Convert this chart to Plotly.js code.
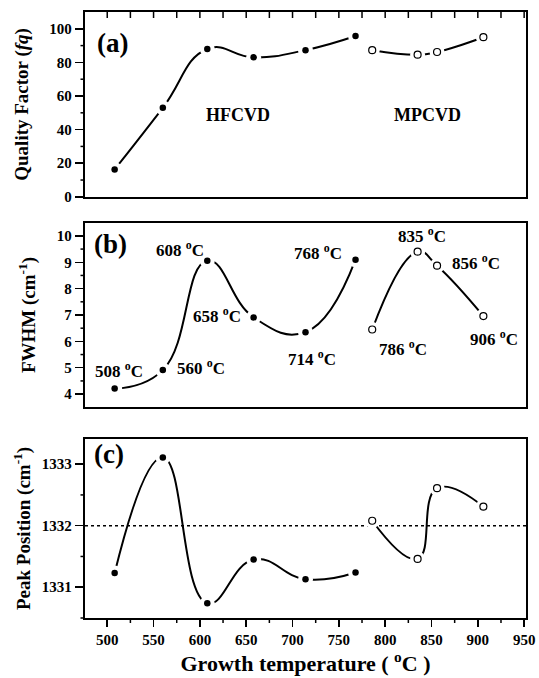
<!DOCTYPE html>
<html>
<head>
<meta charset="utf-8">
<script src="https://cdn.plot.ly/plotly-3.0.1.min.js"></script>
<style>html,body{margin:0;padding:0;background:#fff;}#chart{width:539px;height:678px;}</style>
</head>
<body>
<div id="chart"></div>
<script>
// ---- data ----
const tempsHF = [508, 560, 608, 658, 714, 768];
const tempsMP = [786, 835, 856, 906];
const qualityHF = [16.3, 53, 88, 83, 87.3, 95.7];
const qualityMP = [87.3, 84.6, 86.2, 95];
const fwhmHF = [4.21, 4.91, 9.06, 6.91, 6.35, 9.1];
const fwhmMP = [6.45, 9.4, 8.87, 6.96];
const peakHF = [1331.23, 1333.11, 1330.74, 1331.45, 1331.13, 1331.24];
const peakMP = [1332.08, 1331.46, 1332.61, 1332.31];
const diamondRef = 1332;
const groupLabels = ['HFCVD', 'MPCVD'];
// tick positions
const xTopTicks = [500, 525, 550, 575, 600, 625, 650, 675, 700, 725, 750, 775, 800, 825, 850, 875, 900, 925, 950];
const xMinorTicks = [525, 575, 625, 675, 725, 775, 825, 875, 925];
const yMinorA = [10, 30, 50, 70, 90];
const yMinorB = [4.5, 5.5, 6.5, 7.5, 8.5, 9.5];
const yMinorC = [1330.5, 1331.5, 1332.5];
// label anchor positions (x,y) in panel (b) for each temperature
const tempLabelX = [513, 601, 578, 619, 721, 728, 819, 840, 898, 917];
const tempLabelY = [4.91, 5.01, 9.52, 6.99, 5.36, 9.39, 5.75, 10.04, 9.0, 6.14];

const FONT = 'Liberation Serif, Times New Roman, serif';
const traces = [];
function addSeries(x, y, xa, ya, open) {
  traces.push({x: x, y: y, xaxis: xa, yaxis: ya, mode: 'lines', type: 'scatter',
    line: {shape: 'spline', smoothing: 1.3, color: '#000', width: 2}, hoverinfo: 'skip'});
  traces.push({x: x, y: y, xaxis: xa, yaxis: ya, mode: 'markers', type: 'scatter',
    marker: {symbol: 'circle', size: 15, color: '#fff', line: {width: 0}}, hoverinfo: 'skip'});
  traces.push({x: x, y: y, xaxis: xa, yaxis: ya, mode: 'markers', type: 'scatter',
    marker: open ? {symbol: 'circle-open', size: 7, color: '#000', line: {width: 1.2, color: '#000'}}
                 : {symbol: 'circle', size: 6.5, color: '#000', line: {width: 0}}, hoverinfo: 'skip'});
}
addSeries(tempsHF, qualityHF, 'x', 'y', false);
addSeries(tempsMP, qualityMP, 'x', 'y', true);
addSeries(tempsHF, fwhmHF, 'x2', 'y2', false);
addSeries(tempsMP, fwhmMP, 'x2', 'y2', true);
addSeries(tempsHF, peakHF, 'x3', 'y3', false);
addSeries(tempsMP, peakMP, 'x3', 'y3', true);

const tickFont = {family: FONT, size: 15, color: '#000'};
const titleFont = {family: FONT, size: 19, color: '#000'};
const xrange = [476, 952];
const domA = [0.695, 1], domB = [0.3477, 0.6523], domC = [0, 0.2955];
const rangeA = [0, 110], rangeB = [3.5, 10.5], rangeC = [1330.5, 1333.41];
function xAxis(extra) {
  return Object.assign({range: xrange, showgrid: false, zeroline: false, showline: true,
    linecolor: '#000', linewidth: 2.2, mirror: true, tickmode: 'linear', tick0: 500, dtick: 50,
    tickprefix: '<b>', ticksuffix: '</b>', tickfont: tickFont, tickcolor: '#000', tickwidth: 1.5, ticklen: 7}, extra);
}
function yAxis(t0, major, extra) {
  return Object.assign({showgrid: false, zeroline: false, showline: true, linecolor: '#000',
    linewidth: 2.2, mirror: true, ticks: 'outside', ticklen: 8, tickwidth: 1.5, tickcolor: '#000',
    tickmode: 'linear', tick0: t0, dtick: major, tickprefix: '<b>', ticksuffix: '</b>', tickfont: tickFont}, extra);
}

// secondary tick marks (top inside ticks of panel a, minor ticks) as paper-referenced shapes
const tickLine = {color: '#000', width: 1.5};
const shapes = [];
const plotW = 539 - 85 - 13, plotH = 678 - 12 - 60;
const fx = v => (v - xrange[0]) / (xrange[1] - xrange[0]);
const fy = (v, dom, r) => dom[0] + (v - r[0]) / (r[1] - r[0]) * (dom[1] - dom[0]);
xTopTicks.forEach(v => shapes.push({type: 'line', xref: 'paper', yref: 'paper',
  x0: fx(v), x1: fx(v), y0: 1, y1: 1 - 6 / plotH, line: tickLine}));
xMinorTicks.forEach(v => shapes.push({type: 'line', xref: 'paper', yref: 'paper',
  x0: fx(v), x1: fx(v), y0: 0, y1: -5 / plotH, line: tickLine}));
[[yMinorA, domA, rangeA], [yMinorB, domB, rangeB], [yMinorC, domC, rangeC]].forEach(([vals, dom, r]) => {
  vals.forEach(v => shapes.push({type: 'line', xref: 'paper', yref: 'paper',
    x0: 0, x1: -4.5 / plotW, y0: fy(v, dom, r), y1: fy(v, dom, r), line: tickLine}));
});
shapes.push({type: 'line', xref: 'x3 domain', yref: 'y3', x0: 0, x1: 1, y0: diamondRef, y1: diamondRef,
  line: {color: '#000', width: 1.5, dash: 'dot'}, layer: 'below'});

const allTemps = tempsHF.concat(tempsMP);
const annotations = allTemps.map((t, i) => ({
  x: tempLabelX[i], y: tempLabelY[i], xref: 'x2', yref: 'y2', text: '<b>' + t + ' <sup>o</sup>C</b>',
  showarrow: false, xanchor: 'center', yanchor: 'middle',
  font: {family: FONT, size: 17, color: '#000'}
}));
const big = {family: FONT, size: 27, color: '#000'};
const mid = {family: FONT, size: 18, color: '#000'};
annotations.push(
  {x: 641, y: 48.7, xref: 'x', yref: 'y', text: '<b>' + groupLabels[0] + '</b>', showarrow: false, font: mid},
  {x: 846, y: 48.7, xref: 'x', yref: 'y', text: '<b>' + groupLabels[1] + '</b>', showarrow: false, font: mid},
  {x: 505.5, y: 91.8, xref: 'x', yref: 'y', text: '<b>(a)</b>', showarrow: false, font: big},
  {x: 504, y: 9.71, xref: 'x2', yref: 'y2', text: '<b>(b)</b>', showarrow: false, font: big},
  {x: 502, y: 1333.17, xref: 'x3', yref: 'y3', text: '<b>(c)</b>', showarrow: false, font: big}
);

const layout = {
  width: 539, height: 678,
  margin: {l: 85, r: 13, t: 12, b: 60},
  paper_bgcolor: '#fff', plot_bgcolor: '#fff',
  showlegend: false,
  font: {family: FONT, color: '#000'},
  xaxis: xAxis({anchor: 'y', ticks: '', showticklabels: false}),
  xaxis2: xAxis({anchor: 'y2', ticks: '', showticklabels: false}),
  xaxis3: xAxis({anchor: 'y3', ticks: 'outside',
    title: {text: '<b>Growth temperature ( <sup>o</sup>C )</b>', font: {family: FONT, size: 22, color: '#000'}, standoff: 7}}),
  yaxis: yAxis(0, 20, {domain: domA, range: rangeA,
    title: {text: '<b>Quality Factor (<i>fq</i>)</b>', font: titleFont, standoff: 16}}),
  yaxis2: yAxis(4, 1, {domain: domB, range: rangeB,
    title: {text: '<b>FWHM (cm<sup>-1</sup>)</b>', font: titleFont, standoff: 16}}),
  yaxis3: yAxis(1331, 1, {domain: domC, range: rangeC,
    title: {text: '<b>Peak Position (cm<sup>-1</sup>)</b>', font: titleFont, standoff: 6}}),
  shapes: shapes,
  annotations: annotations
};
Plotly.newPlot('chart', traces, layout, {displayModeBar: false, staticPlot: true});
</script>
</body>
</html>
